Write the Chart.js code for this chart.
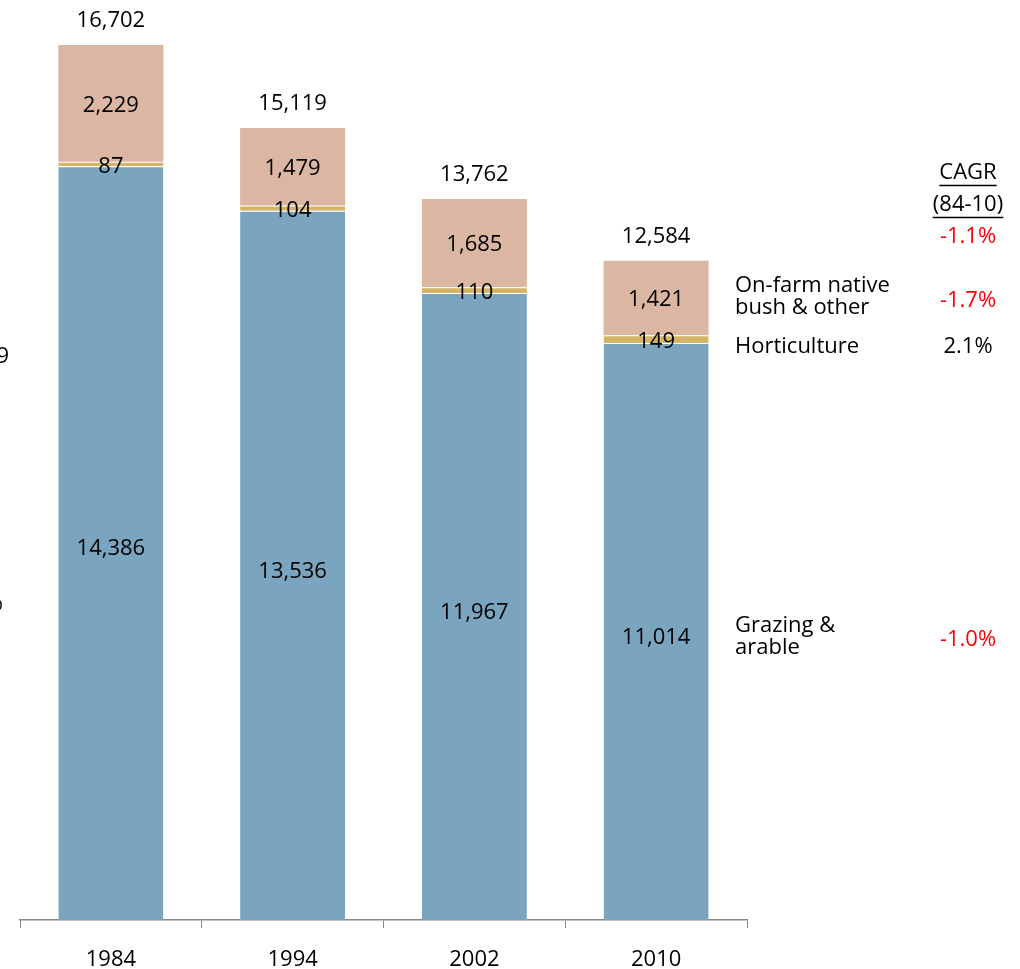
<!DOCTYPE html>
<html>
<head>
<meta charset="utf-8">
<script src="https://cdn.jsdelivr.net/npm/chart.js@4.4.1/dist/chart.umd.min.js"></script>
<style>
  html, body { margin: 0; padding: 0; background: #fff; }
  #wrap { width: 1020px; height: 969px; position: relative; }
</style>
</head>
<body>
<div id="wrap"><canvas id="landUseChart"></canvas></div>
<script>
// Farm land use by type, '000 ha
const years = ["1984", "1994", "2002", "2010"];
const grazingArable = [14386, 13536, 11967, 11014];
const horticulture = [87, 104, 110, 149];
const nativeBush = [2229, 1479, 1685, 1421];

// Series names shown beside the last bar, with growth rates (84-10)
const seriesNames = [["Grazing &", "arable"], ["Horticulture"], ["On-farm native", "bush & other"]];
const seriesCagr = ["-1.0%", "2.1%", "-1.7%"];
const totalCagr = "-1.1%";

const FONT = "'Open Sans', sans-serif";
const RED = "#ff0000";

// vertical nudges per series: values in bars, side names, rates
const valueShift = [6, 3, 2];
const nameShift = [5, 8, -1];
const rateShift = [8, 8, 3];

function fmt(v) {
  return v.toLocaleString("en-US");
}

function cagrColor(txt) {
  return txt.startsWith("-") ? RED : "#000";
}

// Writes values in the segments, totals on top and the side legend
const labelPlugin = {
  id: "labelPlugin",
  afterDatasetsDraw(chart) {
    const ctx = chart.ctx;
    ctx.save();
    ctx.font = "22px " + FONT;
    ctx.fillStyle = "#000";
    ctx.textAlign = "center";
    ctx.textBaseline = "middle";

    chart.data.datasets.forEach((ds, i) => {
      const meta = chart.getDatasetMeta(i);
      meta.data.forEach((bar, j) => {
        const cy = (bar.y + bar.base) / 2 + valueShift[i];
        ctx.fillText(fmt(ds.data[j]), bar.x, cy);
      });
    });

    // totals
    const topMeta = chart.getDatasetMeta(chart.data.datasets.length - 1);
    topMeta.data.forEach((bar, j) => {
      let total = 0;
      chart.data.datasets.forEach(ds => { total += ds.data[j]; });
      ctx.fillText(fmt(total), bar.x, bar.y - 24);
    });

    // side legend next to the last bar
    const last = years.length - 1;
    const nameX = 735;
    const cagrX = 968;
    chart.data.datasets.forEach((ds, i) => {
      const bar = chart.getDatasetMeta(i).data[last];
      const cy = (bar.y + bar.base) / 2;
      const lines = seriesNames[i];
      ctx.textAlign = "left";
      ctx.fillStyle = "#000";
      lines.forEach((ln, k) => {
        ctx.fillText(ln, nameX, cy + nameShift[i] + (k - (lines.length - 1) / 2) * 22);
      });
      ctx.textAlign = "center";
      ctx.fillStyle = cagrColor(seriesCagr[i]);
      ctx.fillText(seriesCagr[i], cagrX, cy + rateShift[i]);
    });

    // CAGR header and total growth
    const lastTop = topMeta.data[last];
    ctx.textAlign = "center";
    ctx.fillStyle = cagrColor(totalCagr);
    ctx.fillText(totalCagr, cagrX, lastTop.y - 24);

    ctx.fillStyle = "#000";
    const header = [["CAGR", lastTop.y - 88], ["(84-10)", lastTop.y - 56]];
    header.forEach(([txt, y]) => {
      ctx.fillText(txt, cagrX, y);
      const w = ctx.measureText(txt).width;
      ctx.fillRect(cagrX - w / 2, y + 12, w, 1.5);
    });

    // cut-off labels at the left edge
    ctx.textAlign = "right";
    ctx.fillText("9", 9, 357);
    ctx.fillText("%", 3, 604);

    ctx.restore();
  }
};

const ctx = document.getElementById("landUseChart").getContext("2d");

new Chart(ctx, {
  type: "bar",
  data: {
    labels: years,
    datasets: [
      {
        label: "Grazing & arable",
        data: grazingArable,
        backgroundColor: "#7ba5bf",
        borderColor: "#ffffff",
        borderWidth: { top: 1 }
      },
      {
        label: "Horticulture",
        data: horticulture,
        backgroundColor: "#d4b465",
        borderColor: "#ffffff",
        borderWidth: { top: 1 }
      },
      {
        label: "On-farm native bush & other",
        data: nativeBush,
        backgroundColor: "#dbb6a3",
        borderColor: "#ffffff",
        borderWidth: 0
      }
    ]
  },
  options: {
    responsive: true,
    maintainAspectRatio: false,
    animation: false,
    barPercentage: 0.578,
    categoryPercentage: 1,
    layout: {
      padding: { top: 45, left: 20, right: 273, bottom: 0 }
    },
    plugins: {
      legend: { display: false },
      tooltip: { enabled: false }
    },
    scales: {
      x: {
        stacked: true,
        // keep the axis line at y = 920 with the year labels below it
        afterFit(scale) {
          scale.height = 49;
        },
        grid: {
          offset: true,
          drawOnChartArea: false,
          drawTicks: true,
          tickLength: 8,
          color: "#888888"
        },
        border: { display: true, color: "#888888", width: 1.5 },
        ticks: {
          color: "#000",
          font: { family: FONT, size: 22 },
          padding: 19
        }
      },
      y: {
        stacked: true,
        display: false,
        min: 0,
        max: 16702
      }
    }
  },
  plugins: [labelPlugin]
});
</script>
</body>
</html>
